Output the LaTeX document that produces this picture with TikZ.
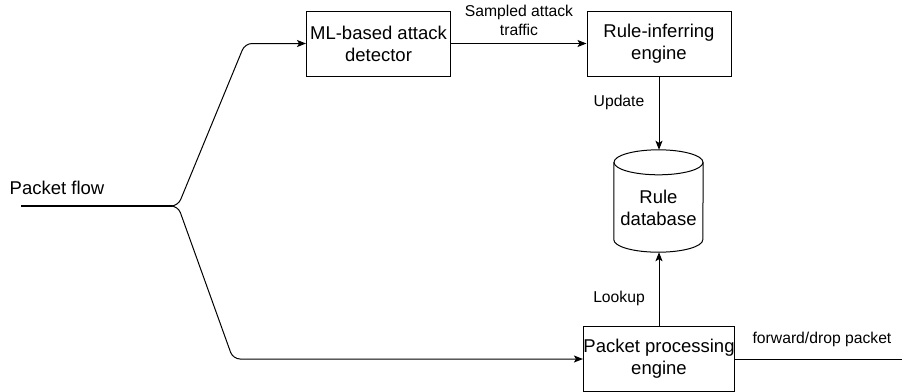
\documentclass[tikz,border=0pt]{standalone}
\usepackage{fontspec}
\setmainfont{Liberation Sans}
\usetikzlibrary{arrows.meta,calc}
\begin{document}
\begin{tikzpicture}[x=1pt,y=1pt,
  box/.style={draw=black,line width=1pt,minimum width=144pt,minimum height=65pt,inner sep=0pt,align=center,font=\fontsize{18.5}{22}\selectfont},
  lbl/.style={align=center,inner sep=0pt,font=\fontsize{15.7}{19}\selectfont},
  conn/.style={line width=1pt,-{Stealth[length=9pt,width=7pt,inset=2pt]}},
  plain/.style={line width=1pt}]
\useasboundingbox (0,0) rectangle (902,-391);
% nodes
\node[box] (ml) at (378.5,-43.5) {ML-based attack\\detector};
\node[box] (ri) at (659,-43.5) {Rule-inferring\\engine};
\node[box] (pp) at (659,-358.5) {Packet processing\\engine};
\node[inner sep=0pt,minimum width=89pt,minimum height=102pt] (db) at (658.5,-201) {};
\node[align=center,inner sep=0pt,font=\fontsize{18.5}{22}\selectfont] (dbtext) at (658.5,-208) {Rule\\database};
% cylinder
\draw[plain] ([yshift=-12.5pt]db.north) ellipse[x radius=44.5pt,y radius=12.5pt];
\draw[plain] ([yshift=-12.5pt]db.north west) -- ([yshift=12.5pt]db.south west)
  arc[start angle=180,end angle=360,x radius=44.5pt,y radius=12.5pt] -- ([yshift=-12.5pt]db.north east);
% packet flow
\node[inner sep=0pt,font=\fontsize{18.5}{22}\selectfont] (pflabel) at (57,-188) {Packet flow};
\coordinate (pfstart) at (21,-206);
\coordinate (split) at (172,-206);
\coordinate (out) at (902,-359);
\draw[line width=2pt] (pfstart) -- (split);
\draw[conn,rounded corners=7pt] (split) -- (178,-206) -- (245,-43.5) -- (ml.west);
\draw[conn,rounded corners=7pt] (split) -- (178,-206) -- (233,-359) -- (pp.west |- 0,-359);
% connectors
\draw[conn] (ml.east) -- (ri.west);
\draw[conn] (ri.south) -- (ri.south |- db.north);
\draw[conn] (pp.north) -- (pp.north |- db.south);
\draw[plain] (pp.east |- out) -- (out);
% labels
\node[lbl] (l1) at (519,-20) {Sampled attack\\traffic};
\node[lbl] (l2) at (619,-102) {Update};
\node[lbl] (l3) at (619,-298) {Lookup};
\node[lbl] (l4) at (822,-339) {forward/drop packet};
\end{tikzpicture}
\end{document}
